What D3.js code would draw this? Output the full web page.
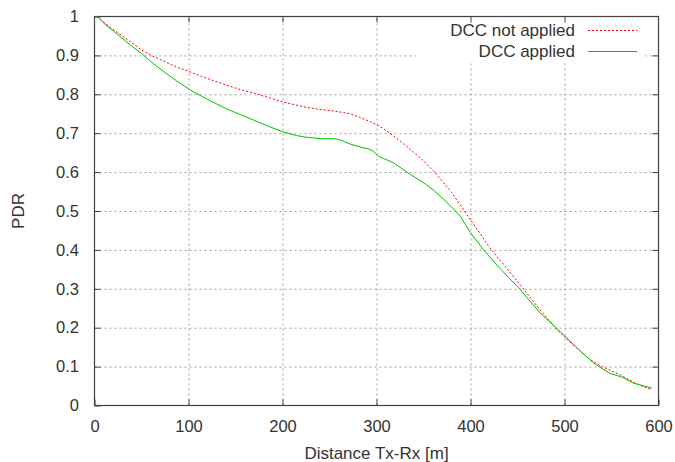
<!DOCTYPE html>
<html lang="en">
  <head>
    <meta charset="utf-8">
    <title>PDR vs distance</title>
    <script src="https://cdn.jsdelivr.net/npm/d3@7"></script>
    <style>
      body { margin: 0; background: #fff; }
      text { font-family: "Liberation Sans", Arial, sans-serif; fill: #333; }
    </style>
  </head>
  <body>
    <div id="chart"></div>
    <script>

// distance [m] and PDR
var distNotApplied = [3, 12, 25, 33, 50, 62, 75, 87, 100, 114, 128, 142, 157, 171, 186, 201, 224, 240, 255, 272, 282, 292, 300,
  308, 318, 327, 336, 345, 353, 362, 371, 380, 389, 400, 410, 420, 435, 453, 474, 492, 500, 512, 525, 538, 550, 562, 575, 585, 592];
var pdrNotApplied = [1.0, 0.981, 0.958, 0.944, 0.914, 0.898, 0.884, 0.870, 0.859, 0.846, 0.834, 0.822, 0.811, 0.802, 0.791, 0.780, 0.767, 0.761, 0.757, 0.750, 0.741, 0.731, 0.722,
  0.711, 0.693, 0.676, 0.658, 0.640, 0.622, 0.599, 0.574, 0.547, 0.516, 0.477, 0.443, 0.407, 0.363, 0.310, 0.246, 0.195, 0.176, 0.150, 0.122, 0.102, 0.089, 0.075, 0.058, 0.047, 0.041];

var distApplied = [3, 12, 25, 37, 50, 62, 75, 87, 100, 107, 125, 142, 155, 171, 186, 201, 215, 224, 240, 255, 262, 272, 282, 292, 296, 302,
  318, 336, 353, 362, 371, 380, 389, 400, 414, 431, 453, 474, 499, 512, 531, 548, 562, 573, 585, 593];
var pdrApplied = [1.0, 0.978, 0.953, 0.929, 0.905, 0.880, 0.856, 0.835, 0.814, 0.804, 0.781, 0.761, 0.748, 0.732, 0.717, 0.703, 0.694, 0.690, 0.686, 0.686, 0.682, 0.672, 0.665, 0.659, 0.655, 0.641,
  0.624, 0.594, 0.568, 0.551, 0.531, 0.510, 0.487, 0.444, 0.400, 0.353, 0.298, 0.238, 0.182, 0.151, 0.109, 0.083, 0.072, 0.058, 0.050, 0.045];

var xTicks = [0, 100, 200, 300, 400, 500, 600];
var yTicks = [0, 0.1, 0.2, 0.3, 0.4, 0.5, 0.6, 0.7, 0.8, 0.9, 1];
var seriesNames = ["DCC not applied", "DCC applied"];

var W = 675, H = 462;
var plotL = 94.5, plotR = 658.5, plotT = 16.5, plotB = 405.5;

var svg = d3.select("#chart").append("svg")
  .attr("width", W).attr("height", H);

var x = d3.scaleLinear().domain([0, 600]).range([plotL, plotR]);
var y = d3.scaleLinear().domain([0, 1]).range([plotB, plotT]);

var fmt = function(d) { return String(+d.toFixed(1)); };

// grid
var grid = svg.append("g").attr("class", "grid");
grid.append("g")
  .attr("transform", "translate(0," + plotB + ")")
  .call(d3.axisBottom(x).tickValues(xTicks.slice(1, -1)).tickSize(-(plotB - plotT)).tickFormat(""));
grid.append("g")
  .attr("transform", "translate(" + plotL + ",0)")
  .call(d3.axisLeft(y).tickValues(yTicks.slice(1, -1)).tickSize(-(plotR - plotL)).tickFormat(""));
grid.selectAll(".domain").remove();
grid.selectAll("line")
  .attr("stroke", "#a0a0a0")
  .attr("stroke-dasharray", "2,3");

// key box blanks the grid behind it
svg.append("rect")
  .attr("x", 418).attr("y", plotT)
  .attr("width", 645 - 418).attr("height", 62 - plotT)
  .attr("fill", "#fff");

// axes with inward ticks on all four sides
var axB = svg.append("g")
  .attr("transform", "translate(0," + plotB + ")")
  .call(d3.axisBottom(x).tickValues(xTicks).tickSize(-6).tickPadding(14.5).tickFormat(fmt));
var axL = svg.append("g")
  .attr("transform", "translate(" + plotL + ",0)")
  .call(d3.axisLeft(y).tickValues(yTicks).tickSize(-6).tickPadding(15.5).tickFormat(fmt));
var axT = svg.append("g")
  .attr("transform", "translate(0," + plotT + ")")
  .call(d3.axisTop(x).tickValues(xTicks.slice(1, -1)).tickSize(-6).tickFormat(""));
var axR = svg.append("g")
  .attr("transform", "translate(" + plotR + ",0)")
  .call(d3.axisRight(y).tickValues(yTicks.slice(1, -1)).tickSize(-6).tickFormat(""));

[axB, axL, axT, axR].forEach(function(a) {
  a.selectAll(".domain").remove();
  a.selectAll("line").attr("stroke", "#404040");
  a.selectAll("text").attr("font-size", 16.5).attr("fill", "#333")
    .style("font-family", '"Liberation Sans", Arial, sans-serif');
});

svg.append("rect")
  .attr("x", plotL).attr("y", plotT)
  .attr("width", plotR - plotL).attr("height", plotB - plotT)
  .attr("fill", "none").attr("stroke", "#404040").attr("stroke-width", 1.2);

// curves
var line = d3.line()
  .x(function(d) { return x(d[0]); })
  .y(function(d) { return y(d[1]); });

var notApplied = d3.zip(distNotApplied, pdrNotApplied);
var applied = d3.zip(distApplied, pdrApplied);

svg.append("path")
  .datum(notApplied)
  .attr("d", line)
  .attr("fill", "none")
  .attr("stroke", "#ff0000")
  .attr("stroke-width", 1)
  .attr("stroke-dasharray", "2,2");

svg.append("path")
  .datum(applied)
  .attr("d", line)
  .attr("fill", "none")
  .attr("stroke", "#00c000")
  .attr("stroke-width", 1);

// key
var key = svg.append("g");
var keyY = [30.5, 51.5];
var keyColor = ["#ff0000", "#00c000"];
var keyDash = ["2,2", "none"];
seriesNames.forEach(function(name, i) {
  key.append("text")
    .attr("x", 575).attr("y", keyY[i])
    .attr("dy", "0.35em")
    .attr("text-anchor", "end")
    .attr("font-size", 17)
    .text(name);
  key.append("line")
    .attr("x1", 588).attr("x2", 637)
    .attr("y1", keyY[i]).attr("y2", keyY[i])
    .attr("stroke", keyColor[i])
    .attr("stroke-width", 1.2)
    .attr("stroke-dasharray", keyDash[i]);
});

// axis titles
svg.append("text")
  .attr("x", (plotL + plotR) / 2).attr("y", 459)
  .attr("text-anchor", "middle")
  .attr("font-size", 17)
  .text("Distance Tx-Rx [m]");

svg.append("text")
  .attr("transform", "translate(24," + ((plotT + plotB) / 2) + ") rotate(-90)")
  .attr("text-anchor", "middle")
  .attr("font-size", 17)
  .text("PDR");

    </script>
  </body>
</html>
